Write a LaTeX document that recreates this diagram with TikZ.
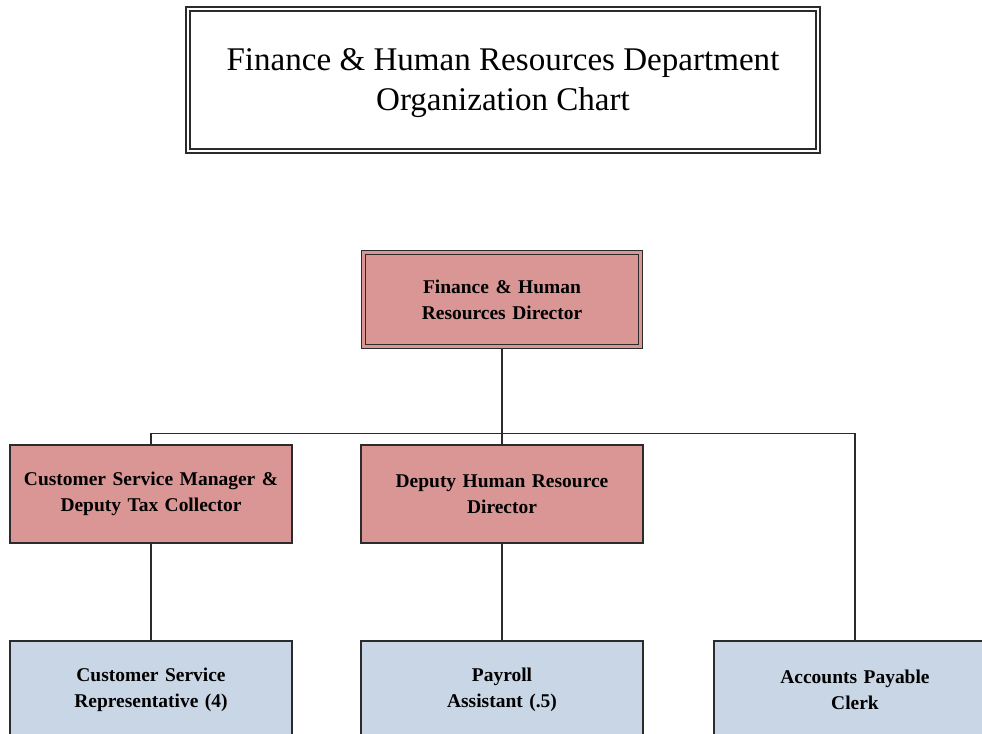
\documentclass[tikz,border=0pt]{standalone}
\usepackage{fontspec}
\setmainfont{Liberation Serif}
\usetikzlibrary{positioning, backgrounds}
\definecolor{headfill}{HTML}{D99694}
\definecolor{stafffill}{HTML}{C9D6E6}
\definecolor{linegray}{HTML}{2B2B2B}

\tikzset{
  titlebox/.style={draw=linegray, line width=0.8pt, double=white, double distance=2.2pt,
    minimum width=472.5pt, minimum height=106.5pt, inner sep=0pt, align=center,
    font=\fontsize{24.8}{30}\selectfont},
  box/.style={draw=linegray, line width=1pt, minimum width=211.5pt, minimum height=73.5pt,
    inner sep=0pt, text width=208pt, align=center,
    font=\bfseries\fontsize{14.6}{19.5}\selectfont},
  headbox/.style={box, fill=headfill},
  staffbox/.style={box, fill=stafffill},
  dirbox/.style={headbox, double=headfill, double distance=2.2pt, line width=0.85pt,
    minimum width=207pt, minimum height=70.5pt},
  link/.style={draw=linegray, line width=1.1pt}
}

\begin{document}
\begin{tikzpicture}[x=0.75pt, y=-0.75pt]
\useasboundingbox (0,0) rectangle (982,734);
\clip (0,0) rectangle (982,734);

% title, text sits a little below the middle
\node[titlebox, text depth=0pt] (title) at (503,80) {Finance \& Human Resources Department\\Organization Chart};

\node[dirbox] (dir) at (502,299.5) {Finance \& Human\\Resources Director};

% second row
\node[headbox] (csm) at (151,494) {Customer Service Manager \&\\Deputy Tax Collector};
\node[headbox] (dep) at (502,494) {Deputy Human Resource\\Director};

% third row
\node[staffbox] (csr) at (151,690) {Customer Service\\Representative (4)};
\node[staffbox] (pay) at (502,690) {Payroll\\Assistant (.5)};
\node[staffbox] (apc) at (855,690) {Accounts Payable\\Clerk};

\begin{pgfonlayer}{background}
\draw[link] (dir) -- (dep);
\draw[link] (csm.north) -- ++(0,-11) -| (apc.north);
\draw[link] (csm) -- (csr);
\draw[link] (dep) -- (pay);
\end{pgfonlayer}
\end{tikzpicture}
\end{document}
